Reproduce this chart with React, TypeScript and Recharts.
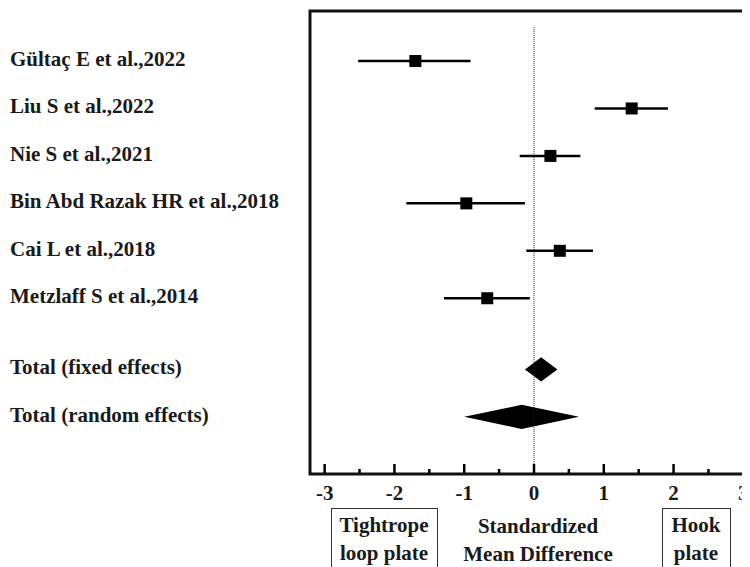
import {
  ComposedChart, Scatter, ErrorBar, XAxis, YAxis,
  ReferenceLine, ReferenceArea,
} from 'recharts'

// studies, top to bottom
const studies = [
  'Gültaç E et al.,2022',
  'Liu S et al.,2022',
  'Nie S et al.,2021',
  'Bin Abd Razak HR et al.,2018',
  'Cai L et al.,2018',
  'Metzlaff S et al.,2014',
]
const studyRows = [0, 1, 2, 3, 4, 5]
const smd    = [-1.70, 1.40, 0.235, -0.97, 0.37, -0.67]
const ciLow  = [-2.52, 0.87, -0.205, -1.83, -0.11, -1.29]
const ciHigh = [-0.91, 1.92, 0.665, -0.13, 0.845, -0.06]

// pooled estimates (diamonds)
const pooled = ['Total (fixed effects)', 'Total (random effects)']
const pooledRows = [6.5, 7.5]
const pooledLow  = [-0.13, -1.00]
const pooledHigh = [0.335, 0.645]

const xTicks = [-3, -2.5, -2, -1.5, -1, -0.5, 0, 0.5, 1, 1.5, 2, 2.5, 3]
const xDomain: [number, number] = [-3.21, 3.21]
const yDomain: [number, number] = [-1.054, 8.704]

const allRows = [...studyRows, ...pooledRows]
const allLabels = [...studies, ...pooled]

const FONT = "'Liberation Serif', 'Times New Roman', serif"
const INK = '#1a1a1a'

const data = studies.map((s, i) => ({
  name: s,
  x: smd[i],
  y: studyRows[i],
  err: [smd[i] - ciLow[i], ciHigh[i] - smd[i]],
}))

const Square = (p: any) => (
  <rect x={p.cx - 6} y={p.cy - 6} width={12} height={12} fill="#000" />
)

const Diamond = (p: any) => {
  const { x, y, width: w, height: h } = p
  const pts = `${x},${y + h / 2} ${x + w / 2},${y} ${x + w},${y + h / 2} ${x + w / 2},${y + h}`
  return <polygon points={pts} fill="#000" />
}

const XTick = ({ x, y, payload }: any) => {
  const v = payload.value
  const major = Number.isInteger(v)
  return (
    <g>
      <line x1={x} x2={x} y1={y} y2={y - (major ? 10 : 5)} stroke="#000" strokeWidth={2.5} />
      {major && (
        <text x={x} y={y + 26} textAnchor="middle" fontFamily={FONT} fontWeight="bold" fontSize={21} fill={INK}>
          {String(v)}
        </text>
      )}
    </g>
  )
}

const YTick = ({ y, payload }: any) => (
  <text x={2} y={y} dy={5} textAnchor="start" fontFamily={FONT} fontWeight="bold" fontSize={21} fill={INK}>
    {allLabels[allRows.indexOf(payload.value)]}
  </text>
)

const boxText: React.CSSProperties = {
  position: 'absolute',
  fontFamily: FONT,
  fontWeight: 'bold',
  fontSize: 21,
  lineHeight: '28px',
  color: INK,
  textAlign: 'center',
  boxSizing: 'border-box',
}

export default function App() {
  return (
    <div style={{ position: 'relative', width: 742, height: 559, overflow: 'hidden', background: '#fff' }}>
      <ComposedChart
        width={760}
        height={559}
        data={data}
        margin={{ top: 3, right: 10, left: 0, bottom: 53 }}
      >
        <XAxis
          type="number"
          dataKey="x"
          domain={xDomain}
          ticks={xTicks}
          interval={0}
          allowDataOverflow
          axisLine={false}
          tickLine={false}
          tickSize={0}
          tickMargin={0}
          tick={<XTick />}
          height={40}
        />
        <YAxis
          type="number"
          dataKey="y"
          domain={yDomain}
          reversed
          allowDataOverflow
          ticks={allRows}
          interval={0}
          axisLine={false}
          tickLine={false}
          tick={<YTick />}
          width={302}
        />
        <ReferenceArea
          x1={xDomain[0]} x2={xDomain[1]} y1={yDomain[0]} y2={yDomain[1]}
          fill="none" stroke="#111" strokeWidth={3} ifOverflow="visible"
        />
        <ReferenceLine
          segment={[{ x: 0, y: -0.72 }, { x: 0, y: yDomain[1] }]}
          stroke="#222" strokeWidth={1} strokeDasharray="1 1"
        />
        {pooled.map((p, i) => (
          <ReferenceArea
            key={p}
            x1={pooledLow[i]} x2={pooledHigh[i]}
            y1={pooledRows[i] - 0.255} y2={pooledRows[i] + 0.255}
            shape={<Diamond />}
          />
        ))}
        <Scatter dataKey="x" shape={<Square />} isAnimationActive={false}>
          <ErrorBar dataKey="err" direction="x" width={0} stroke="#000" strokeWidth={2.5} isAnimationActive={false} />
        </Scatter>
      </ComposedChart>

      <div style={{ ...boxText, left: 322.5, top: 500, width: 107, height: 90, border: '1.5px solid #333', paddingTop: 2 }}>
        Tightrope<br />loop plate
      </div>
      <div style={{ ...boxText, left: 430, top: 501.5, width: 200, paddingTop: 2 }}>
        Standardized<br />Mean Difference
      </div>
      <div style={{ ...boxText, left: 653.5, top: 500, width: 69, height: 90, border: '1.5px solid #333', paddingTop: 2 }}>
        Hook<br />plate
      </div>
    </div>
  )
}
